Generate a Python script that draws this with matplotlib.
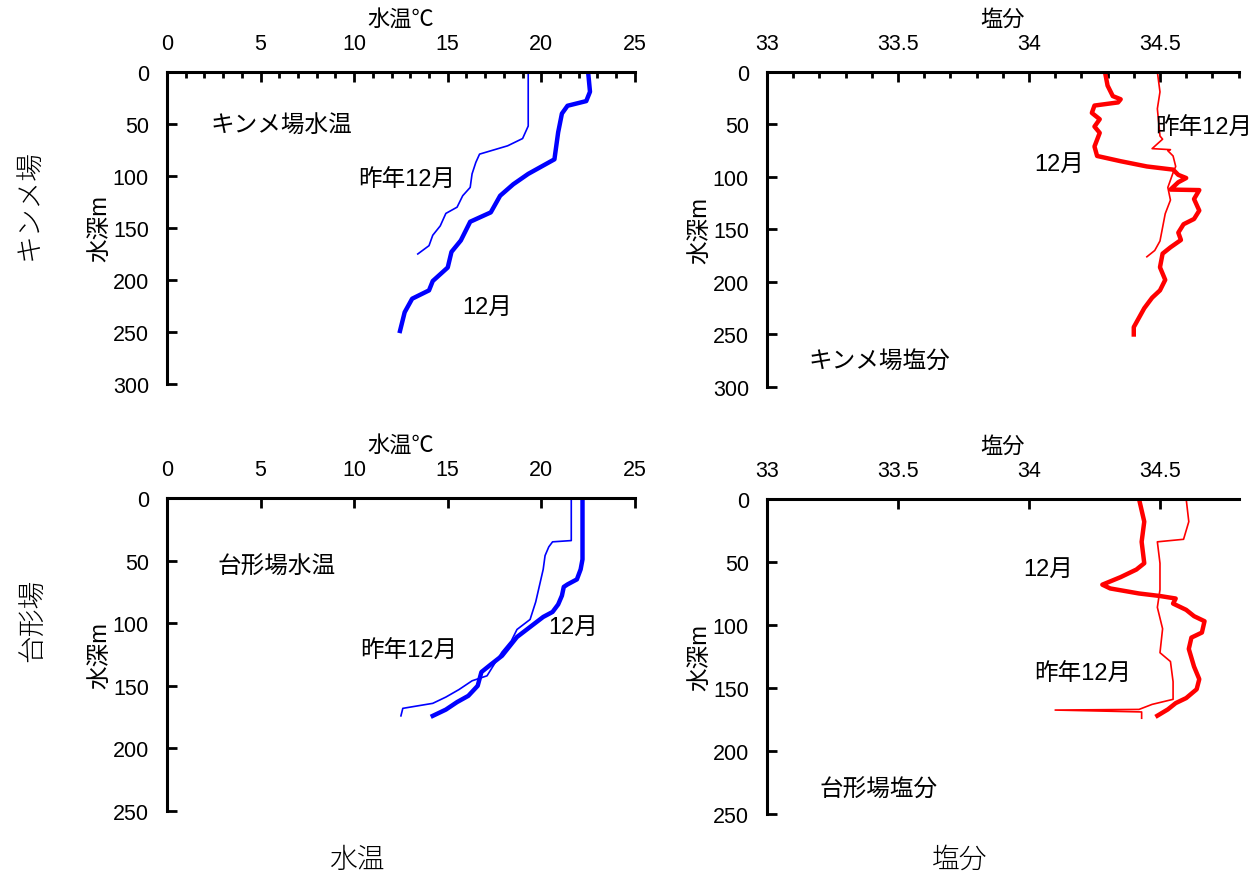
import matplotlib
matplotlib.use("Agg")
import matplotlib.pyplot as plt
from matplotlib.ticker import MultipleLocator

plt.rcParams['font.family'] = ['Liberation Sans', 'Noto Sans CJK JP']

# キンメ場 水温 (depth m, temp C)
kinme_temp_depth = [0, 19, 28, 32.5, 40, 58, 84, 88, 98, 108, 119, 135, 144, 162, 173, 188, 201, 210, 218, 231, 249]
kinme_temp = [22.5, 22.6, 22.4, 21.4, 21.1, 20.9, 20.7, 20.3, 19.3, 18.5, 17.8, 17.3, 16.2, 15.7, 15.2, 15.0, 14.2, 14.0, 13.1, 12.7, 12.45]
kinme_temp_prev_depth = [0, 52, 64, 71, 79, 87, 98, 111, 119, 130, 136, 148, 157, 167, 175]
kinme_temp_prev = [19.3, 19.3, 19.0, 18.2, 16.7, 16.5, 16.3, 16.2, 15.8, 15.5, 14.9, 14.6, 14.2, 14.0, 13.4]

# キンメ場 塩分
kinme_sal_depth = [0, 13, 23, 26, 29, 32, 39, 45, 52, 58, 71, 80, 85, 90, 93, 98, 101, 105, 112, 112.5,
                   121, 132, 140, 145, 153, 160, 167, 173, 186, 198, 208, 215, 225, 234, 243, 250]
kinme_sal = [34.29, 34.30, 34.32, 34.35, 34.34, 34.25, 34.24, 34.27, 34.25, 34.27, 34.25, 34.26, 34.35, 34.45,
             34.55, 34.57, 34.60, 34.57, 34.54, 34.65, 34.63, 34.65, 34.63, 34.59, 34.57, 34.58, 34.54, 34.51,
             34.50, 34.52, 34.50, 34.47, 34.44, 34.42, 34.40, 34.40]
kinme_sal_prev_depth = [0, 19, 35, 61, 64, 73, 74, 75, 80, 90, 96, 110, 122, 135, 148, 161, 170, 176]
kinme_sal_prev = [34.49, 34.50, 34.49, 34.50, 34.51, 34.47, 34.54, 34.53, 34.55, 34.56, 34.55, 34.53,
                  34.54, 34.52, 34.51, 34.50, 34.48, 34.45]

# 台形場 水温
daikei_temp_depth = [0, 49, 57, 65, 69, 71, 78, 85, 91, 95, 103, 111, 126, 133, 139, 150, 158, 163, 169, 174]
daikei_temp = [22.2, 22.2, 22.1, 21.9, 21.4, 21.2, 21.1, 20.9, 20.6, 20.1, 19.4, 18.7, 17.9, 17.3, 16.8, 16.6, 16.1, 15.5, 14.9, 14.2]
daikei_temp_prev_depth = [0, 34, 35, 39, 46, 57, 70, 83, 97, 105, 114, 123, 130, 142, 146, 153, 159, 164, 168, 174]
daikei_temp_prev = [21.6, 21.6, 20.6, 20.4, 20.2, 20.1, 19.9, 19.7, 19.4, 18.7, 18.4, 17.9, 17.6, 17.1, 16.3, 15.6, 14.9, 14.2, 12.6, 12.5]

# 台形場 塩分
daikei_sal_depth = [0, 18, 34, 51, 56, 62, 68, 71, 75, 77, 79, 83, 88, 93, 97, 106, 110, 119, 133, 143, 151, 158, 162, 167, 172]
daikei_sal = [34.42, 34.44, 34.43, 34.44, 34.41, 34.35, 34.28, 34.31, 34.42, 34.50, 34.56, 34.55, 34.60, 34.63,
              34.67, 34.66, 34.62, 34.61, 34.63, 34.65, 34.64, 34.60, 34.56, 34.53, 34.49]
daikei_sal_prev_depth = [0, 18, 32, 34, 51, 72, 86, 103, 122, 129, 145, 159, 163, 167, 167.5, 169, 174]
daikei_sal_prev = [34.60, 34.61, 34.59, 34.49, 34.50, 34.50, 34.49, 34.51, 34.50, 34.54, 34.55, 34.55,
                   34.47, 34.42, 34.10, 34.43, 34.43]


def style_axis(ax, xlabel, xlim, xmajor, xminor, ymax):
    ax.set_xlim(*xlim)
    ax.set_ylim(ymax, 0)
    ax.xaxis.tick_top()
    ax.xaxis.set_label_position('top')
    ax.xaxis.set_major_locator(MultipleLocator(xmajor))
    if xminor:
        ax.xaxis.set_minor_locator(MultipleLocator(xminor))
    ax.yaxis.set_major_locator(MultipleLocator(50))
    ax.spines['right'].set_visible(False)
    ax.spines['bottom'].set_visible(False)
    ax.spines['top'].set_linewidth(2.2)
    ax.spines['left'].set_linewidth(2.2)
    ax.tick_params(which='major', direction='in', length=7, width=2, labelsize=15.5, pad=13)
    ax.tick_params(which='minor', direction='in', length=4, width=2)
    ax.set_xlabel(xlabel, fontsize=16, labelpad=6)
    ax.set_ylabel('水深m', fontsize=17, labelpad=1)


fig = plt.figure(figsize=(12.6, 8.79), dpi=100)

ax1 = fig.add_axes([0.1325, 0.562, 0.3714, 0.355])
ax2 = fig.add_axes([0.6087, 0.5586, 0.3743, 0.3584])
ax3 = fig.add_axes([0.1325, 0.0762, 0.3714, 0.3561])
ax4 = fig.add_axes([0.6087, 0.0728, 0.3743, 0.3584])

ann = dict(fontsize=17, va='center')

# キンメ場
ax1.plot(kinme_temp_prev, kinme_temp_prev_depth, color='#0000FF', lw=1.2)
ax1.plot(kinme_temp, kinme_temp_depth, color='#0000FF', lw=3.2)
style_axis(ax1, '水温℃', (0, 25), 5, 1, 300)
ax1.text(2.3, 52, 'キンメ場水温', **ann)
ax1.text(10.2, 104, '昨年12月', **ann)
ax1.text(15.8, 226, '12月', **ann)

ax2.plot(kinme_sal_prev, kinme_sal_prev_depth, color='#FF0000', lw=1.2)
ax2.plot(kinme_sal, kinme_sal_depth, color='#FF0000', lw=3.2)
style_axis(ax2, '塩分', (33, 34.8), 0.5, 0.1, 300)
ax2.set_xticks([33, 33.5, 34, 34.5])
ax2.set_xticklabels(['33', '33.5', '34', '34.5'])
ax2.text(34.48, 53, '昨年12月', **ann)
ax2.text(34.02, 88, '12月', **ann)
ax2.text(33.16, 276, 'キンメ場塩分', **ann)

# 台形場
ax3.plot(daikei_temp_prev, daikei_temp_prev_depth, color='#0000FF', lw=1.2)
ax3.plot(daikei_temp, daikei_temp_depth, color='#0000FF', lw=3.2)
style_axis(ax3, '水温℃', (0, 25), 5, None, 250)
ax3.text(2.7, 55, '台形場水温', **ann)
ax3.text(10.3, 122, '昨年12月', **ann)
ax3.text(20.35, 103, '12月', **ann)

ax4.plot(daikei_sal_prev, daikei_sal_prev_depth, color='#FF0000', lw=1.2)
ax4.plot(daikei_sal, daikei_sal_depth, color='#FF0000', lw=3.2)
style_axis(ax4, '塩分', (33, 34.8), 0.5, None, 250)
ax4.set_xticks([33, 33.5, 34, 34.5])
ax4.set_xticklabels(['33', '33.5', '34', '34.5'])
ax4.text(33.98, 55.5, '12月', **ann)
ax4.text(34.02, 139, '昨年12月', **ann)
ax4.text(33.2, 231, '台形場塩分', **ann)

# row / column titles
title = dict(fontsize=20, fontweight='light', ha='center', va='center', family='Noto Sans CJK JP')
fig.text(30 / 1260, 1 - 205 / 879, 'キンメ場', rotation=90, **title)
fig.text(33 / 1260, 1 - 620 / 879, '台形場', rotation=90, **title)
fig.text(357 / 1260, 1 - 860 / 879, '水温', **title)
fig.text(960 / 1260, 1 - 860 / 879, '塩分', **title)

fig.savefig('out.png', dpi=100)
